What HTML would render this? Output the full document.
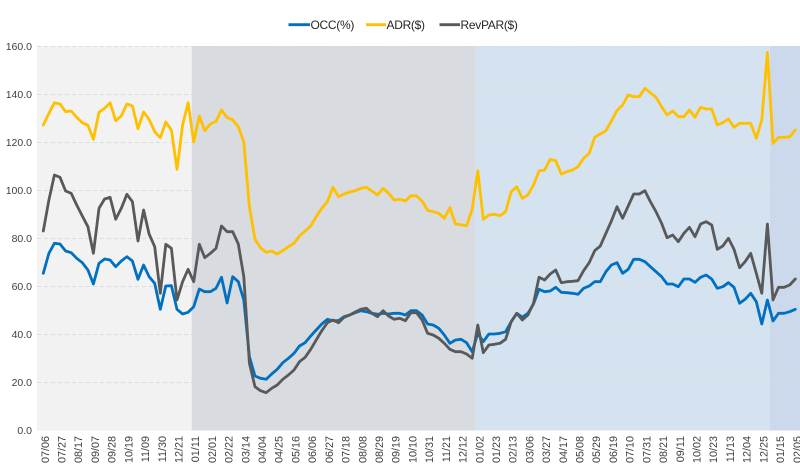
<!DOCTYPE html>
<html>
<head>
<meta charset="utf-8">
<style>
  html,body{margin:0;padding:0;background:#ffffff;}
  svg{display:block;}
  text{font-family:"Liberation Sans",sans-serif;}
</style>
</head>
<body>
<svg width="800" height="466" viewBox="0 0 800 466" xmlns="http://www.w3.org/2000/svg">
  <rect x="0" y="0" width="800" height="466" fill="#ffffff"/>
  <!-- background bands -->
  <rect x="37" y="46" width="154.7" height="384.5" fill="#f2f2f2"/>
  <rect x="191.7" y="46" width="283.3" height="384.5" fill="#d8dbdf"/>
  <rect x="475" y="46" width="295" height="384.5" fill="#d5e3f1"/>
  <rect x="770" y="46" width="30" height="384.5" fill="#ccd9ec"/>

  <!-- gridlines -->
  <g stroke="#dadada" stroke-width="1" stroke-dasharray="4 3" opacity="0.85">
    <line x1="37" y1="46.5" x2="800" y2="46.5"/>
    <line x1="37" y1="94.5" x2="800" y2="94.5"/>
    <line x1="37" y1="142.5" x2="800" y2="142.5"/>
    <line x1="37" y1="190.5" x2="800" y2="190.5"/>
    <line x1="37" y1="238.5" x2="800" y2="238.5"/>
    <line x1="37" y1="286.5" x2="800" y2="286.5"/>
    <line x1="37" y1="334.5" x2="800" y2="334.5"/>
    <line x1="37" y1="382.5" x2="800" y2="382.5"/>
  </g>

  <!-- y labels -->
  <g font-size="10.5" fill="#404040" text-anchor="end">
    <text x="32" y="50">160.0</text>
    <text x="32" y="98">140.0</text>
    <text x="32" y="146">120.0</text>
    <text x="32" y="194">100.0</text>
    <text x="32" y="242">80.0</text>
    <text x="32" y="290">60.0</text>
    <text x="32" y="338">40.0</text>
    <text x="32" y="386">20.0</text>
    <text x="32" y="434">0.0</text>
  </g>

  <!-- series -->
  <g fill="none" stroke-width="2.8" stroke-linejoin="round" stroke-linecap="round">
    <polyline stroke="#0070c0" points="43.3,273.3 48.9,253.3 54.4,243.3 60,244 65.6,251 71.2,252.7 76.7,258.3 82.3,262.7 87.9,270 93.4,284 99,263.3 104.6,259 110.1,260 115.7,266.7 121.3,261 126.9,256.7 132.4,261 138,279.3 143.6,265 149.1,276.7 154.7,283.3 160.3,309.3 165.8,286 171.4,285.7 177,309.3 182.6,314 188.1,312.3 193.7,306.7 199.3,289 204.8,291.7 210.4,291.7 216,288.3 221.5,277.3 227.1,303 232.7,276.7 238.3,281.7 243.8,300 249.4,356.7 255,376 260.5,378.3 266.1,379.3 271.7,374 277.2,369.3 282.8,362.7 288.4,358.3 294,353.3 299.5,346 305.1,342.7 310.7,336 316.2,330 321.8,324 327.4,319.3 332.9,320.7 338.5,320.7 344.1,316.7 349.7,315 355.2,312.7 360.8,310.7 366.4,311.7 371.9,313.3 377.5,314.3 383.1,313.3 388.6,314 394.2,313.3 399.8,313.3 405.4,315 410.9,310.7 416.5,310.7 422.1,315 427.6,324 433.2,325 438.8,328.3 444.3,335 449.9,343.3 455.5,340 461,339.3 466.6,342.7 472.2,351.7 477.8,333.3 483.3,341.7 488.9,334 494.5,334 500,333.3 505.6,331.7 511.2,321.7 516.8,313.3 522.3,317.3 527.9,313.3 533.5,304 539,289.3 544.6,291.7 550.2,291 555.7,287.3 561.3,292.3 566.9,292.7 572.5,293.3 578,294.3 583.6,288.3 589.2,286 594.7,281.7 600.3,281.7 605.9,271.7 611.4,265 617,262.7 622.6,273.3 628.2,269.3 633.7,259.3 639.3,259.3 644.9,261.7 650.4,266.7 656,271.7 661.6,276.7 667.1,284 672.7,284 678.3,286.7 683.9,279 689.4,279 695,282.3 700.6,277.3 706.1,275 711.7,279 717.3,288.3 722.8,286.7 728.4,282.7 734,287.3 739.6,303.3 745.1,299.3 750.7,293.3 756.3,301.7 761.8,324 767.4,300 773,321 778.5,313.3 784.1,313.3 789.7,311.7 795.3,309.3"/>
    <polyline stroke="#ffc000" points="43.3,125 48.9,113.3 54.4,102.7 60,104 65.6,111.7 71.2,111 76.7,117.3 82.3,122.7 87.9,125.3 93.4,139.3 99,112.3 104.6,108.3 110.1,102.7 115.7,120.7 121.3,116 126.9,104 132.4,106 138,128.7 143.6,112 149.1,119.3 154.7,131.7 160.3,137.7 165.8,122 171.4,130 177,169.3 182.6,125 188.1,102.7 193.7,142 199.3,116 204.8,130.7 210.4,124 216,121.3 221.5,110 227.1,117.5 232.7,119.7 238.3,126.7 243.8,141.7 249.4,206.7 255,239.3 260.5,247.7 266.1,252.3 271.7,251 277.2,254 282.8,250.7 288.4,246.7 294,243.3 299.5,236 305.1,231 310.7,226 316.2,216.7 321.8,208.3 327.4,201.7 332.9,187.3 338.5,196.7 344.1,194 349.7,192 355.2,190.7 360.8,188.3 366.4,187.3 371.9,191 377.5,195 383.1,188.3 388.6,193.3 394.2,200 399.8,199.3 405.4,201 410.9,195.7 416.5,196 422.1,201 427.6,210.3 433.2,211.7 438.8,213.3 444.3,218.3 449.9,207.7 455.5,224 461,224.7 466.6,225.7 472.2,209.3 477.8,170.7 483.3,219.3 488.9,215 494.5,214.3 500,215.7 505.6,211.7 511.2,191.7 516.8,186.7 522.3,198.3 527.9,195 533.5,185 539,171 544.6,170 550.2,159.3 555.7,160.7 561.3,174 566.9,171.7 572.5,170 578,166.7 583.6,158.3 589.2,153.3 594.7,137.3 600.3,134 605.9,130.7 611.4,121 617,110.5 622.6,105 628.2,95 633.7,96.7 639.3,96.7 644.9,88.3 650.4,92.7 656,97.3 661.6,106.7 667.1,115 672.7,111 678.3,116.7 683.9,116.7 689.4,110 695,117.3 700.6,107.3 706.1,109 711.7,109 717.3,125 722.8,122.7 728.4,119 734,127.3 739.6,123.3 745.1,123.3 750.7,123.3 756.3,138.3 761.8,120 767.4,52.3 773,143.3 778.5,137.3 784.1,137.3 789.7,136.7 795.3,130"/>
    <polyline stroke="#595959" points="43.3,231 48.9,200 54.4,175 60,177.3 65.6,191 71.2,193.3 76.7,205 82.3,216 87.9,226.7 93.4,253.3 99,208.3 104.6,199 110.1,197.3 115.7,219.3 121.3,208.3 126.9,194.3 132.4,201.7 138,241 143.6,210 149.1,234 154.7,246.7 160.3,293.3 165.8,244.3 171.4,248.3 177,300 182.6,281.7 188.1,269.3 193.7,281.7 199.3,244.3 204.8,257.7 210.4,253.3 216,248.3 221.5,226 227.1,231.7 232.7,231.7 238.3,244 243.8,276.7 249.4,363.3 255,386.7 260.5,390.7 266.1,392.7 271.7,388.3 277.2,385 282.8,379.3 288.4,375 294,370 299.5,361.7 305.1,357.3 310.7,349.3 316.2,340 321.8,330.7 327.4,322.7 332.9,320 338.5,322.7 344.1,317.3 349.7,315 355.2,312 360.8,309.3 366.4,308.3 371.9,313.3 377.5,316.7 383.1,310.7 388.6,316 394.2,319.3 399.8,318.3 405.4,320.7 410.9,312.7 416.5,312.7 422.1,320 427.6,333.3 433.2,335 438.8,338.3 444.3,343.3 449.9,349.3 455.5,351.7 461,351.7 466.6,354 472.2,358.3 477.8,325 483.3,352.7 488.9,345 494.5,344.3 500,343.3 505.6,339.3 511.2,321.7 516.8,313.3 522.3,320 527.9,315 533.5,303.3 539,277.3 544.6,280 550.2,274 555.7,270 561.3,282.7 566.9,281.7 572.5,281.3 578,280.7 583.6,270.7 589.2,262.7 594.7,250.7 600.3,246 605.9,233.3 611.4,221 617,206.7 622.6,218.3 628.2,206 633.7,194 639.3,194 644.9,190.7 650.4,201.7 656,211.7 661.6,223.3 667.1,237.7 672.7,235 678.3,241.7 683.9,233.3 689.4,227.3 695,236.7 700.6,224 706.1,221.7 711.7,225 717.3,249.3 722.8,246 728.4,238.3 734,249.3 739.6,267.7 745.1,261.7 750.7,253.3 756.3,273.3 761.8,293.3 767.4,224 773,300 778.5,287.3 784.1,287.3 789.7,285 795.3,279"/>
  </g>

  <!-- legend -->
  <g stroke-width="2.8">
    <line x1="288.5" y1="24.7" x2="310" y2="24.7" stroke="#0070c0"/>
    <line x1="366" y1="24.7" x2="386" y2="24.7" stroke="#ffc000"/>
    <line x1="439.5" y1="24.7" x2="460" y2="24.7" stroke="#595959"/>
  </g>
  <g font-size="12" fill="#262626" letter-spacing="-0.3">
    <text x="310.5" y="29">OCC(%)</text>
    <text x="386.5" y="29">ADR($)</text>
    <text x="460.5" y="29">RevPAR($)</text>
  </g>

  <!-- x labels -->
  <g font-size="10.8" fill="#404040" text-anchor="end">
    <text transform="translate(48.8,436) rotate(-90)">07/06</text>
    <text transform="translate(65.5,436) rotate(-90)">07/27</text>
    <text transform="translate(82.2,436) rotate(-90)">08/17</text>
    <text transform="translate(98.9,436) rotate(-90)">09/07</text>
    <text transform="translate(115.6,436) rotate(-90)">09/28</text>
    <text transform="translate(132.4,436) rotate(-90)">10/19</text>
    <text transform="translate(149.1,436) rotate(-90)">11/09</text>
    <text transform="translate(165.8,436) rotate(-90)">11/30</text>
    <text transform="translate(182.5,436) rotate(-90)">12/21</text>
    <text transform="translate(199.2,436) rotate(-90)">01/11</text>
    <text transform="translate(215.9,436) rotate(-90)">02/01</text>
    <text transform="translate(232.6,436) rotate(-90)">02/22</text>
    <text transform="translate(249.3,436) rotate(-90)">03/14</text>
    <text transform="translate(266,436) rotate(-90)">04/04</text>
    <text transform="translate(282.7,436) rotate(-90)">04/25</text>
    <text transform="translate(299.5,436) rotate(-90)">05/16</text>
    <text transform="translate(316.2,436) rotate(-90)">06/06</text>
    <text transform="translate(332.9,436) rotate(-90)">06/27</text>
    <text transform="translate(349.6,436) rotate(-90)">07/18</text>
    <text transform="translate(366.3,436) rotate(-90)">08/08</text>
    <text transform="translate(383,436) rotate(-90)">08/29</text>
    <text transform="translate(399.7,436) rotate(-90)">09/19</text>
    <text transform="translate(416.4,436) rotate(-90)">10/10</text>
    <text transform="translate(433.1,436) rotate(-90)">10/31</text>
    <text transform="translate(449.8,436) rotate(-90)">11/21</text>
    <text transform="translate(466.6,436) rotate(-90)">12/12</text>
    <text transform="translate(483.3,436) rotate(-90)">01/02</text>
    <text transform="translate(500,436) rotate(-90)">01/23</text>
    <text transform="translate(516.7,436) rotate(-90)">02/13</text>
    <text transform="translate(533.4,436) rotate(-90)">03/06</text>
    <text transform="translate(550.1,436) rotate(-90)">03/27</text>
    <text transform="translate(566.8,436) rotate(-90)">04/17</text>
    <text transform="translate(583.5,436) rotate(-90)">05/08</text>
    <text transform="translate(600.2,436) rotate(-90)">05/29</text>
    <text transform="translate(616.9,436) rotate(-90)">06/19</text>
    <text transform="translate(633.7,436) rotate(-90)">07/10</text>
    <text transform="translate(650.4,436) rotate(-90)">07/31</text>
    <text transform="translate(667.1,436) rotate(-90)">08/21</text>
    <text transform="translate(683.8,436) rotate(-90)">09/11</text>
    <text transform="translate(700.5,436) rotate(-90)">10/02</text>
    <text transform="translate(717.2,436) rotate(-90)">10/23</text>
    <text transform="translate(733.9,436) rotate(-90)">11/13</text>
    <text transform="translate(750.6,436) rotate(-90)">12/04</text>
    <text transform="translate(767.3,436) rotate(-90)">12/25</text>
    <text transform="translate(784,436) rotate(-90)">01/15</text>
    <text transform="translate(800.8,436) rotate(-90)">02/05</text>
  </g>
</svg>
</body>
</html>
